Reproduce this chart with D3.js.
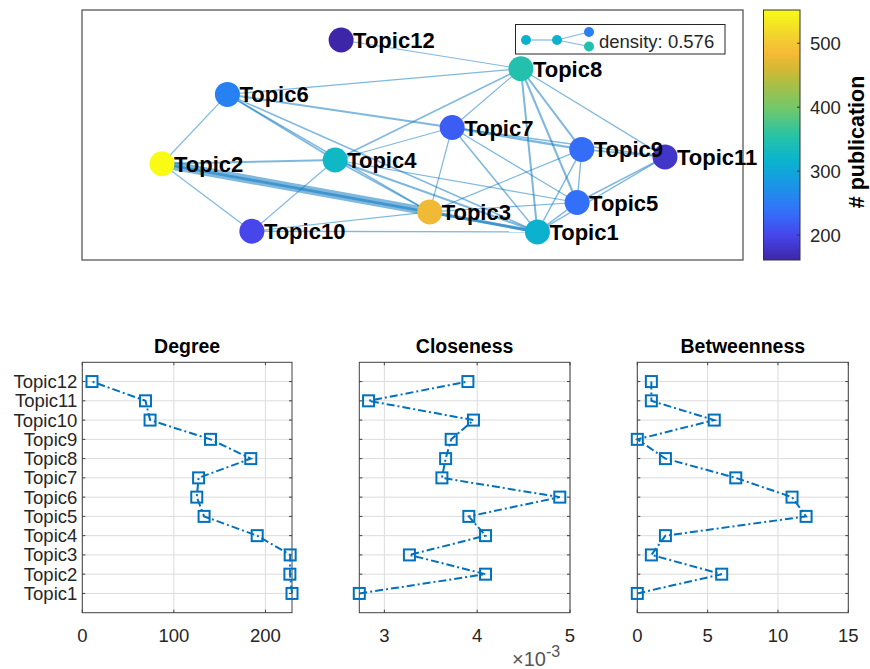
<!DOCTYPE html>
<html>
<head>
<meta charset="utf-8">
<script src="https://cdn.jsdelivr.net/npm/d3@7"></script>
<style>
  html, body { margin: 0; padding: 0; background: #fff; }
  svg { display: block; }
  text { font-family: "Liberation Sans", Arial, Helvetica, sans-serif; }
</style>
</head>
<body>
<script>
// ---------------- DATA ----------------
const topics = ["Topic1","Topic2","Topic3","Topic4","Topic5","Topic6","Topic7","Topic8","Topic9","Topic10","Topic11","Topic12"];
const publications = [313, 552, 480, 325, 237, 255, 220, 349, 235, 200, 180, 161];
// graph layout coordinates (layout units)
const layoutX = [6.89, 1.21, 5.26, 3.83, 7.49, 2.20, 5.60, 6.64, 7.56, 2.57, 8.82, 3.92];
const layoutY = [0.45, 1.54, 0.77, 1.60, 0.92, 2.65, 2.12, 3.06, 1.77, 0.46, 1.65, 3.52];
// edges (1-based topic numbers) and weights
const edgeSource = [2,2,2,2,2, 6,6,6,6,6, 4,4,4,4,4,4, 10,10, 3,3,3,3, 7,7,7,7,7, 8,8,8,8,8, 9,9,9, 5,5, 1];
const edgeTarget = [6,4,3,10,1, 4,7,8,1,3, 8,7,3,1,5,10, 3,1, 7,1,5,9, 8,9,1,5,11, 9,5,1,11,12, 5,1,11, 1,11, 11];
const edgeWeight = [6,12,50,6,16, 10,12,7,9,9, 10,7,9,12,7,6, 6,8, 7,18,7,6, 7,14,9,8,8, 12,12,12,7,6, 8,8,9, 9,9, 7];
const densityLabel = "density: 0.576";
const colorbarTicks = [200, 300, 400, 500];
const colorbarDomain = [161, 552];

const degree      = [229, 226.7, 227, 191, 133, 125, 127, 184, 140, 74, 69, 10.6];
const closeness   = [0.00273, 0.00409, 0.00327, 0.00409, 0.00391, 0.00489, 0.00362, 0.00366, 0.00372, 0.00396, 0.00283, 0.00390];
const betweenness = [0, 6.0, 1, 2, 12.0, 11.0, 7.0, 2, 0, 5.47, 1, 1];
const degreeTicks = [0, 100, 200];
const closenessTicks = [0.003, 0.004, 0.005];
const betweennessTicks = [0, 5, 10, 15];

// ---------------- SETUP ----------------
const W = 870, H = 669;
const svg = d3.select("body").append("svg").attr("width", W).attr("height", H);
const txtColor = "#262626";
const blue = "#0072BD";

// parula-like colormap
const parulaT = [0, 0.1, 0.2, 0.3, 0.4, 0.5, 0.6, 0.7, 0.76, 0.83, 0.9, 1];
const parulaC = ["#3e26a8","#4646eb","#3273fa","#1996e6","#0ab4cd","#28c3a5","#6ec86e","#a8c046","#d2b834","#f8ba37","#f2d42e","#f9fb15"];
const cmap = d3.scaleLinear()
  .domain(parulaT.map(t => colorbarDomain[0] + t * (colorbarDomain[1] - colorbarDomain[0])))
  .range(parulaC).clamp(true);

// ---------------- NETWORK PANEL ----------------
const net = { x0: 82, x1: 743, y0: 10, y1: 260 };
const xNet = d3.scaleLinear().domain([0, 10]).range([net.x0, net.x1]);
const yNet = d3.scaleLinear().domain([0, 4]).range([net.y1, net.y0]);
const wScale = d3.scaleLinear().domain([0, d3.max(edgeWeight)]).range([0, 8.5]);

svg.append("rect").attr("x", net.x0).attr("y", net.y0)
  .attr("width", net.x1 - net.x0).attr("height", net.y1 - net.y0)
  .attr("fill", "#fff").attr("stroke", "#4a4a4a").attr("stroke-width", 1.2);

const edges = edgeSource.map((s, i) => ({ s: s - 1, t: edgeTarget[i] - 1, w: edgeWeight[i] }));
svg.append("g").selectAll("line").data(edges).join("line")
  .attr("x1", d => xNet(layoutX[d.s])).attr("y1", d => yNet(layoutY[d.s]))
  .attr("x2", d => xNet(layoutX[d.t])).attr("y2", d => yNet(layoutY[d.t]))
  .attr("stroke", blue).attr("stroke-opacity", 0.5)
  .attr("stroke-width", d => Math.max(1.2, wScale(d.w)));

svg.append("g").selectAll("circle").data(topics).join("circle")
  .attr("cx", (d, i) => xNet(layoutX[i])).attr("cy", (d, i) => yNet(layoutY[i]))
  .attr("r", 12.5).attr("fill", (d, i) => cmap(publications[i]));

svg.append("g").selectAll("text").data(topics).join("text")
  .attr("x", (d, i) => xNet(layoutX[i]) + 12).attr("y", (d, i) => yNet(layoutY[i]) + 8)
  .attr("font-size", 22).attr("font-weight", "bold").attr("fill", "#000")
  .text(d => d);

// legend
const lg = svg.append("g");
lg.append("rect").attr("x", 515.5).attr("y", 24.5).attr("width", 209.5).attr("height", 29.5)
  .attr("fill", "#fff").attr("stroke", txtColor).attr("stroke-width", 1);
const lgNodes = [[526, 40, 313], [557, 40, 313], [589, 32, 255], [589, 46.5, 349]];
[[0,1],[1,2],[1,3]].forEach(([a,b]) => {
  lg.append("line").attr("x1", lgNodes[a][0]).attr("y1", lgNodes[a][1])
    .attr("x2", lgNodes[b][0]).attr("y2", lgNodes[b][1])
    .attr("stroke", blue).attr("stroke-opacity", 0.5).attr("stroke-width", 1.2);
});
lgNodes.forEach(n => lg.append("circle").attr("cx", n[0]).attr("cy", n[1]).attr("r", 5).attr("fill", cmap(n[2])));
lg.append("text").attr("x", 599).attr("y", 47.5).attr("font-size", 18.5).attr("fill", txtColor).text(densityLabel);

// colorbar
const cb = { x0: 763.5, x1: 800, y0: 10, y1: 260 };
const yCb = d3.scaleLinear().domain(colorbarDomain).range([cb.y1, cb.y0]);
const grad = svg.append("defs").append("linearGradient").attr("id", "parula")
  .attr("x1", 0).attr("y1", 1).attr("x2", 0).attr("y2", 0);
parulaT.forEach((t, i) => grad.append("stop").attr("offset", t).attr("stop-color", parulaC[i]));
svg.append("rect").attr("x", cb.x0).attr("y", cb.y0).attr("width", cb.x1 - cb.x0).attr("height", cb.y1 - cb.y0)
  .attr("fill", "url(#parula)").attr("stroke", "#333").attr("stroke-width", 1);
colorbarTicks.forEach(v => {
  svg.append("line").attr("x1", cb.x1 - 3).attr("x2", cb.x1).attr("y1", yCb(v)).attr("y2", yCb(v))
    .attr("stroke", "#333").attr("stroke-width", 1);
  svg.append("text").attr("x", 810).attr("y", yCb(v)).attr("dy", "0.35em")
    .attr("font-size", 18.5).attr("fill", txtColor).text(v);
});
svg.append("text").attr("transform", "translate(864,142) rotate(-90)")
  .attr("text-anchor", "middle").attr("font-size", 21.5).attr("font-weight", "bold")
  .attr("fill", "#000").text("# publication");

// ---------------- CENTRALITY PANELS ----------------
const yTop = 362.3, yBot = 612.7;
const yCat = d3.scaleLinear().domain([0, 13]).range([yBot, yTop]);

function panel(x0, x1, domain, ticks, values, title, fmt, showY) {
  const xs = d3.scaleLinear().domain(domain).range([x0, x1]);
  const g = svg.append("g");
  ticks.forEach(t => {
    g.append("line").attr("x1", xs(t)).attr("x2", xs(t)).attr("y1", yTop).attr("y2", yBot)
      .attr("stroke", "#dcdcdc").attr("stroke-width", 1);
  });
  topics.forEach((d, i) => {
    g.append("line").attr("x1", x0).attr("x2", x1).attr("y1", yCat(i + 1)).attr("y2", yCat(i + 1))
      .attr("stroke", "#dcdcdc").attr("stroke-width", 1);
  });
  g.append("rect").attr("x", x0).attr("y", yTop).attr("width", x1 - x0).attr("height", yBot - yTop)
    .attr("fill", "none").attr("stroke", "#404040").attr("stroke-width", 1);
  ticks.forEach(t => {
    g.append("line").attr("x1", xs(t)).attr("x2", xs(t)).attr("y1", yBot).attr("y2", yBot - 3).attr("stroke", "#404040");
    g.append("line").attr("x1", xs(t)).attr("x2", xs(t)).attr("y1", yTop).attr("y2", yTop + 3).attr("stroke", "#404040");
    g.append("text").attr("x", xs(t)).attr("y", 641.5).attr("text-anchor", "middle")
      .attr("font-size", 18.5).attr("fill", txtColor).text(fmt(t));
  });
  topics.forEach((d, i) => {
    const y = yCat(i + 1);
    g.append("line").attr("x1", x0).attr("x2", x0 + 3).attr("y1", y).attr("y2", y).attr("stroke", "#404040");
    g.append("line").attr("x1", x1).attr("x2", x1 - 3).attr("y1", y).attr("y2", y).attr("stroke", "#404040");
    if (showY) {
      g.append("text").attr("x", x0 - 5).attr("y", y).attr("dy", "0.35em").attr("text-anchor", "end")
        .attr("font-size", 18.5).attr("fill", txtColor).text(d);
    }
  });
  g.append("text").attr("x", (x0 + x1) / 2).attr("y", 353).attr("text-anchor", "middle")
    .attr("font-size", 19.5).attr("font-weight", "bold").attr("fill", "#000").text(title);
  const line = d3.line().x((d, i) => xs(d)).y((d, i) => yCat(i + 1));
  g.append("path").datum(values).attr("d", line).attr("fill", "none")
    .attr("stroke", blue).attr("stroke-width", 2).attr("stroke-dasharray", "8,3,2,3");
  g.selectAll("rect.mk").data(values).join("rect").attr("class", "mk")
    .attr("x", d => xs(d) - 5.5).attr("y", (d, i) => yCat(i + 1) - 5.5)
    .attr("width", 11).attr("height", 11).attr("fill", "none")
    .attr("stroke", blue).attr("stroke-width", 2);
  return xs;
}

panel(82.3, 292, [0, 229], degreeTicks, degree, "Degree", d => d, true);
panel(359.3, 570, [0.00273, 0.005], closenessTicks, closeness, "Closeness", d => Math.round(d * 1000), false);
panel(637.3, 848.3, [0, 15], betweennessTicks, betweenness, "Betweenness", d => d, false);

// exponent label
const ex = svg.append("text").attr("x", 512).attr("y", 666).attr("font-size", 20).attr("fill", "#555");
ex.append("tspan").text("\u00d710");
ex.append("tspan").attr("dy", -9).attr("font-size", 16).text("-3");
</script>
</body>
</html>
